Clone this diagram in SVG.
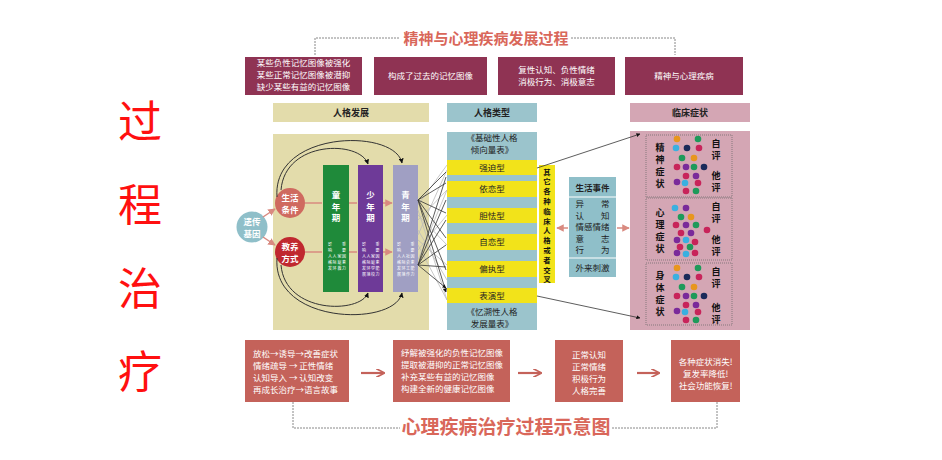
<svg xmlns="http://www.w3.org/2000/svg" width="942" height="460" viewBox="0 0 942 460">
<style>
text{font-family:"Noto Sans CJK SC","Noto Sans",sans-serif}
.big{font-size:44px;fill:#ff1010}
.ttl{font-size:15px;font-weight:bold;fill:#d9675a;text-anchor:middle}
.ttl2{font-size:19px;font-weight:bold;fill:#d9675a;text-anchor:middle}
.mbox{fill:#8f3353}
.wt{font-size:8.5px;fill:#fff;text-anchor:middle}
.wtl{font-size:8.5px;fill:#fff}
.hd{font-size:9px;font-weight:bold;fill:#222;text-anchor:middle}
.dk{font-size:8.5px;fill:#222;text-anchor:middle}
.vt{font-size:9px;font-weight:bold;fill:#111;text-anchor:middle}
.vs{font-size:7.4px;font-weight:bold;fill:#111;text-anchor:middle}
.bt{font-size:8.5px;font-weight:bold;fill:#fff;text-anchor:middle}
.tiny{font-size:4px;fill:#fff;text-anchor:middle}
.dash{fill:none;stroke:#888;stroke-width:1;stroke-dasharray:2 1}
.yb{fill:#f2e31a}
.rb{fill:#c4625a}
.fan{stroke:#333;stroke-width:0.8;fill:none;marker-end:url(#ah)}
.fanl{stroke:#bbb;stroke-width:0.8;fill:none}
.arc{stroke:#333;stroke-width:1;fill:none;marker-end:url(#ah)}
.pk{stroke:#d98a80;stroke-width:1.5;fill:none;marker-end:url(#pa)}
.ba{stroke:#c4625a;stroke-width:2.2;fill:none;marker-end:url(#ra)}
.dot{fill:none;stroke:#666;stroke-width:0.7;stroke-dasharray:1 1}
.o{fill:#e8961e}.g{fill:#1e9a5a}.c{fill:#3ab0e0}.n{fill:#1a2a5a}.r{fill:#c8245a}.p{fill:#7a2a9a}
</style>
<defs>
<marker id="ah" viewBox="0 0 10 10" refX="9" refY="5" markerWidth="5" markerHeight="5" orient="auto"><path d="M0,0L10,5L0,10z" fill="#111"/></marker>
<marker id="pa" viewBox="0 0 10 10" refX="9" refY="5" markerWidth="5" markerHeight="5" orient="auto"><path d="M0,0L10,5L0,10z" fill="#d98a80"/></marker>
<marker id="ra" viewBox="0 0 10 10" refX="8" refY="5" markerWidth="4" markerHeight="4" orient="auto"><path d="M0,0L10,5L0,10" fill="none" stroke="#c4625a" stroke-width="2"/></marker>
<g id="dots">
<circle cx="0" cy="0" r="3.3" class="o"/><circle cx="21" cy="0" r="3.3" class="g"/>
<circle cx="-1" cy="9" r="3.3" class="c"/><circle cx="10" cy="9" r="3.3" class="n"/><circle cx="22" cy="9" r="3.3" class="r"/>
<circle cx="5" cy="19" r="3.3" class="g"/><circle cx="17" cy="19" r="3.3" class="o"/>
<circle cx="0" cy="28" r="3.3" class="r"/><circle cx="9" cy="28" r="3.3" class="p"/><circle cx="17" cy="28" r="3.3" class="g"/><circle cx="27" cy="28" r="3.3" class="n"/>
<circle cx="9" cy="37" r="3.3" class="r"/><circle cx="19" cy="37" r="3.3" class="p"/>
<circle cx="0" cy="43" r="3.3" class="p"/><circle cx="8" cy="44" r="3.3" class="c"/><circle cx="21" cy="44" r="3.3" class="r"/>
<circle cx="9" cy="52" r="3.3" class="r"/><circle cx="19" cy="52" r="3.3" class="g"/>
</g>
</defs>
<rect width="942" height="460" fill="#fff"/>

<g id="side-title">
<text class="big" x="140" y="138" text-anchor="middle">过</text>
<text class="big" x="140" y="221" text-anchor="middle">程</text>
<text class="big" x="140" y="305" text-anchor="middle">治</text>
<text class="big" x="140" y="388" text-anchor="middle">疗</text>
</g>

<g id="top-title">
<path class="dash" d="M315,55V38H400M571,38H675V55"/>
<text class="ttl" x="486" y="44">精神与心理疾病发展过程</text>
</g>

<g id="top1"><rect class="mbox" x="245" y="57" width="117" height="38"/>
<text class="wt" x="303.5" y="66">某些负性记忆图像被强化</text>
<text class="wt" x="303.5" y="78">某些正常记忆图像被潜抑</text>
<text class="wt" x="303.5" y="90">缺少某些有益的记忆图像</text></g>
<g id="top2"><rect class="mbox" x="374" y="57" width="113" height="38"/>
<text class="wt" x="430.5" y="79">构成了过去的记忆图像</text></g>
<g id="top3"><rect class="mbox" x="498" y="57" width="117" height="38"/>
<text class="wt" x="556.5" y="72.5">复性认知、负性情绪</text>
<text class="wt" x="556.5" y="85">消极行为、消极意志</text></g>
<g id="top4"><rect class="mbox" x="625" y="57" width="118" height="38"/>
<text class="wt" x="684" y="79">精神与心理疾病</text></g>

<g id="dev-panel">
<rect x="273" y="103" width="156" height="19" fill="#e3dcab"/>
<text class="hd" x="351" y="116">人格发展</text>
<rect x="273" y="134" width="156" height="196" fill="#e3dcab"/>
</g>
<g id="type-panel">
<rect x="447" y="103" width="90" height="19" fill="#9bc4cc"/>
<text class="hd" x="492" y="116">人格类型</text>
<rect x="447" y="132" width="90" height="198" fill="#9bc4cc"/>
<text class="dk" x="492" y="141">《基础性人格</text>
<text class="dk" x="492" y="153">倾向量表》</text>
<text class="dk" x="492" y="315">《忆溯性人格</text>
<text class="dk" x="492" y="327">发展量表》</text>
</g>
<g id="t1"><rect class="yb" x="447" y="160" width="90" height="15"/><text class="dk" x="492" y="171">强迫型</text></g>
<g id="t2"><rect class="yb" x="447" y="181" width="90" height="16"/><text class="dk" x="492" y="192">依恋型</text></g>
<g id="t3"><rect class="yb" x="447" y="208" width="90" height="15"/><text class="dk" x="492" y="219">胆怯型</text></g>
<g id="t4"><rect class="yb" x="447" y="234" width="90" height="16"/><text class="dk" x="492" y="245">自恋型</text></g>
<g id="t5"><rect class="yb" x="447" y="261" width="90" height="16"/><text class="dk" x="492" y="272">偏执型</text></g>
<g id="t6"><rect class="yb" x="447" y="288" width="90" height="15"/><text class="dk" x="492" y="299">表演型</text></g>

<g id="other">
<rect class="yb" x="539" y="165" width="16" height="118"/>
<g class="vs">
<text x="547" y="174.5">其</text><text x="547" y="184.3">它</text><text x="547" y="194.1">各</text><text x="547" y="203.9">种</text>
<text x="547" y="213.7">临</text><text x="547" y="223.5">床</text><text x="547" y="233.3">人</text><text x="547" y="243.1">格</text>
<text x="547" y="252.9">或</text><text x="547" y="262.7">者</text><text x="547" y="272.5">交</text><text x="547" y="282.3">叉</text>
</g>
</g>

<g id="life-events">
<rect x="569" y="177" width="47" height="100" fill="#8fbfc9"/>
<line x1="569" y1="197" x2="616" y2="197" stroke="#fff" stroke-width="1"/>
<line x1="569" y1="258" x2="616" y2="258" stroke="#fff" stroke-width="1"/>
<text class="dk" x="592.5" y="190.5" style="font-weight:bold">生活事件</text>
<text class="dk" x="592.5" y="207">异　　常</text>
<text class="dk" x="592.5" y="218.5">认　　知</text>
<text class="dk" x="592.5" y="230">情感情绪</text>
<text class="dk" x="592.5" y="241.5">意　　志</text>
<text class="dk" x="592.5" y="253">行　　为</text>
<text class="dk" x="592.5" y="270.5">外来刺激</text>
</g>

<g id="clinic">
<rect x="630" y="103" width="120" height="19" fill="#d4a6b4"/>
<text class="hd" x="690" y="116">临床症状</text>
<rect x="630" y="131" width="120" height="199" fill="#d4a6b4"/>
<rect class="dot" x="646" y="135" width="86" height="62"/>
<rect class="dot" x="646" y="198" width="86" height="62"/>
<rect class="dot" x="646" y="263" width="86" height="62"/>
<use href="#dots" x="677" y="139"/>
<use href="#dots" x="677" y="268"/>
<g>
<circle cx="675" cy="208" r="3.3" class="c"/><circle cx="686" cy="208" r="3.3" class="p"/>
<circle cx="681" cy="217" r="3.3" class="g"/><circle cx="691" cy="217" r="3.3" class="o"/>
<circle cx="676" cy="225" r="3.3" class="r"/><circle cx="686" cy="225" r="3.3" class="p"/><circle cx="696" cy="225" r="3.3" class="g"/>
<circle cx="707" cy="230" r="3.3" class="r"/>
<circle cx="681" cy="233" r="3.3" class="r"/><circle cx="691" cy="233" r="3.3" class="p"/>
<circle cx="677" cy="240" r="3.3" class="p"/><circle cx="686" cy="240" r="3.3" class="c"/><circle cx="695" cy="242" r="3.3" class="r"/>
<circle cx="680" cy="247" r="3.3" class="r"/><circle cx="690" cy="247" r="3.3" class="g"/>
<circle cx="677" cy="253" r="3.3" class="p"/><circle cx="686" cy="254" r="3.3" class="c"/><circle cx="695" cy="253" r="3.3" class="r"/>
</g>
<g class="vt">
<text x="660" y="151">精</text><text x="660" y="163">神</text><text x="660" y="175">症</text><text x="660" y="187">状</text>
<text x="716" y="147">自</text><text x="716" y="159">评</text><text x="716" y="179">他</text><text x="716" y="191">评</text>
<text x="660" y="216">心</text><text x="660" y="228">理</text><text x="660" y="240">症</text><text x="660" y="252">状</text>
<text x="716" y="210">自</text><text x="716" y="222">评</text><text x="716" y="243">他</text><text x="716" y="255">评</text>
<text x="660" y="279">身</text><text x="660" y="291">体</text><text x="660" y="303">症</text><text x="660" y="315">状</text>
<text x="716" y="275">自</text><text x="716" y="287">评</text><text x="716" y="311">他</text><text x="716" y="323">评</text>
</g>
</g>

<g id="gene"><circle cx="252" cy="227" r="15.5" fill="#8fbfc9"/>
<text class="bt" x="252" y="224.5">遗传</text><text class="bt" x="252" y="236.5">基因</text></g>
<g id="life"><circle cx="290" cy="203" r="15" fill="#cf6a5f"/>
<text class="bt" x="290" y="200.5">生活</text><text class="bt" x="290" y="212.5">条件</text></g>
<g id="edu"><circle cx="290" cy="252" r="15" fill="#c0282f"/>
<text class="bt" x="290" y="249.5">教养</text><text class="bt" x="290" y="261.5">方式</text></g>

<g id="child"><rect x="323" y="165" width="26" height="127" fill="#1f8a3a"/>
<text class="bt" x="336" y="198">童</text><text class="bt" x="336" y="209.5">年</text><text class="bt" x="336" y="221">期</text>
<g class="tiny">
<text x="330" y="246">影</text><text x="344" y="246">重</text>
<text x="330" y="252">响</text><text x="344" y="252">要</text>
<text x="330" y="258">人</text><text x="334.5" y="258">人</text><text x="339.5" y="258">家</text><text x="344" y="258">因</text>
<text x="330" y="264">格</text><text x="334.5" y="264">际</text><text x="339.5" y="264">庭</text><text x="344" y="264">素</text>
<text x="330" y="270">发</text><text x="334.5" y="270">环</text><text x="339.5" y="270">教</text><text x="344" y="270">力</text>
</g>
</g>
<g id="teen"><rect x="358" y="165" width="25" height="127" fill="#6e3a98"/>
<text class="bt" x="370.5" y="198">少</text><text class="bt" x="370.5" y="209.5">年</text><text class="bt" x="370.5" y="221">期</text>
<g class="tiny">
<text x="364" y="246">影</text><text x="377.5" y="246">重</text>
<text x="364" y="252">响</text><text x="377.5" y="252">要</text>
<text x="364" y="258">人</text><text x="368.5" y="258">人</text><text x="373" y="258">家</text><text x="377.5" y="258">因</text>
<text x="364" y="264">格</text><text x="368.5" y="264">际</text><text x="373" y="264">庭</text><text x="377.5" y="264">素</text>
<text x="364" y="270">发</text><text x="368.5" y="270">环</text><text x="373" y="270">学</text><text x="377.5" y="270">能</text>
<text x="364" y="276">展</text><text x="368.5" y="276">境</text><text x="373" y="276">校</text><text x="377.5" y="276">力</text>
</g>
</g>
<g id="youth"><rect x="393" y="165" width="25" height="127" fill="#a09fc3"/>
<text class="bt" x="405.5" y="198">青</text><text class="bt" x="405.5" y="209.5">年</text><text class="bt" x="405.5" y="221">期</text>
<g class="tiny">
<text x="399" y="246">影</text><text x="412.5" y="246">重</text>
<text x="399" y="252">响</text><text x="412.5" y="252">要</text>
<text x="399" y="258">人</text><text x="403.5" y="258">人</text><text x="408" y="258">社</text><text x="412.5" y="258">因</text>
<text x="399" y="264">格</text><text x="403.5" y="264">际</text><text x="408" y="264">会</text><text x="412.5" y="264">素</text>
<text x="399" y="270">发</text><text x="403.5" y="270">环</text><text x="408" y="270">工</text><text x="412.5" y="270">能</text>
<text x="399" y="276">展</text><text x="403.5" y="276">境</text><text x="408" y="276">作</text><text x="412.5" y="276">力</text>
</g>
</g>

<g id="connectors">
<path class="pk" d="M263,217L275,209"/>
<path class="pk" d="M263,237L275,245"/>
<path class="pk" d="M305,203H322M349,203H357M383,203H392"/>
<path class="pk" d="M305,252H322M349,252H357M383,252H392"/>
<path class="arc" d="M277,197C272,130 395,128 402,163"/>
<path class="arc" d="M281,190C285,140 360,140 368,164"/>
<path class="arc" d="M277,258C272,325 395,327 402,293"/>
<path class="arc" d="M281,265C285,314 360,314 368,293"/>
<path class="fanl" d="M418,205L447,165M418,220L447,190M418,235L447,170M418,245L447,300M418,230L447,280M418,215L447,245M418,250L447,215M418,240L447,265M418,210L447,300M418,260L447,190"/>
<path class="fan" d="M418,200L446,172M418,200L446,183M418,200L446,213M418,200L446,238M418,200L446,270M418,200L446,292"/>
<path class="fan" d="M418,265L446,177M418,265L446,200M418,265L446,220M418,265L446,245M418,265L446,267M418,265L446,288"/>
<path class="fan" d="M537,168L640,134"/>
<path class="fan" d="M537,296L640,318"/>
<path class="pk" d="M568,228H557"/>
<path class="pk" d="M617,228H629"/>
<path class="ba" d="M361,373H383"/>
<path class="ba" d="M518,373H540"/>
<path class="ba" d="M637,373H658"/>
</g>

<g id="b1"><rect class="rb" x="245" y="340" width="104" height="62"/>
<text class="wtl" x="253" y="357">放松→诱导→改善症状</text>
<text class="wtl" x="253" y="369">情绪疏导 → 正性情绪</text>
<text class="wtl" x="253" y="381">认知导入 → 认知改变</text>
<text class="wtl" x="253" y="393">再成长治疗→语言故事</text></g>
<g id="b2"><rect class="rb" x="393" y="340" width="117" height="62"/>
<text class="wtl" x="401" y="356">纾解被强化的负性记忆图像</text>
<text class="wtl" x="401" y="368">提取被潜抑的正常记忆图像</text>
<text class="wtl" x="401" y="380">补充某些有益的记忆图像</text>
<text class="wtl" x="401" y="392">构建全新的健康记忆图像</text></g>
<g id="b3"><rect class="rb" x="555" y="340" width="68" height="62"/>
<text class="wt" x="589" y="358">正常认知</text>
<text class="wt" x="589" y="370">正常情绪</text>
<text class="wt" x="589" y="382">积极行为</text>
<text class="wt" x="589" y="394">人格完善</text></g>
<g id="b4"><rect class="rb" x="671" y="340" width="69" height="62"/>
<text class="wt" x="705.5" y="365">各种症状消失!</text>
<text class="wt" x="705.5" y="377">复发率降低!</text>
<text class="wt" x="705.5" y="389">社会功能恢复!</text></g>

<g id="bottom-title">
<path class="dash" d="M293,402V428H400M612,428H717V402"/>
<text class="ttl2" x="506" y="434">心理疾病治疗过程示意图</text>
</g>
</svg>
